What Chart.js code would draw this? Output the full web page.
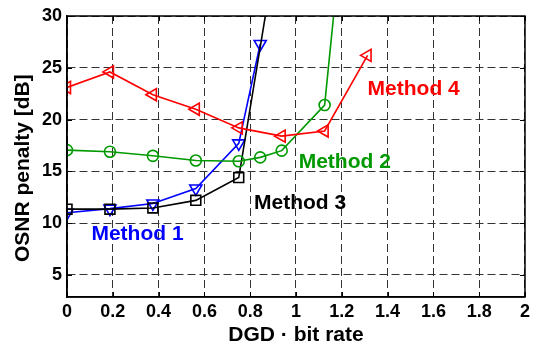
<!DOCTYPE html>
<html>
<head>
<meta charset="utf-8">
<script src="https://cdn.jsdelivr.net/npm/chart.js@4"></script>
<style>
  body { margin: 0; background: #fff; }
  canvas { display: block; }
</style>
</head>
<body>
<canvas id="penaltyChart" width="534" height="349"></canvas>
<script>
const xTicks = [0, 0.2, 0.4, 0.6, 0.8, 1, 1.2, 1.4, 1.6, 1.8, 2];
const yTicks = [5, 10, 15, 20, 25, 30];

const method1X = [0, 0.1875, 0.375, 0.5625, 0.75, 0.84375];
const method1Y = [11.0, 11.4, 11.9, 13.35, 17.7, 27.3];
const method2X = [0, 0.1875, 0.375, 0.5625, 0.75, 0.84375, 0.9375, 1.125, 1.3125];
const method2Y = [17.05, 16.9, 16.5, 16.05, 15.97, 16.35, 17.0, 21.4, 62.6];
const method3X = [0, 0.1875, 0.375, 0.5625, 0.75, 0.9375];
const method3Y = [11.35, 11.35, 11.47, 12.2, 14.4, 39.6];
const method4X = [0, 0.1875, 0.375, 0.5625, 0.75, 0.9375, 1.125, 1.3125];
const method4Y = [23.1, 24.6, 22.4, 21.0, 19.2, 18.4, 18.9, 26.2];

const methodNames = ["Method 1", "Method 2", "Method 3", "Method 4"];
const methodColors = ["#0000ff", "#009900", "#000000", "#ff0000"];
// where each name is written, in data units
const labelX = [0.308, 1.213, 1.018, 1.514];
const labelY = [8.93, 15.9, 11.88, 22.95];

const FONT = "'Liberation Sans', Arial, sans-serif";

function toPoints(xs, ys) {
    return xs.map((x, i) => ({ x: x, y: ys[i] }));
}

function makeSet(i, xs, ys, style, rotation, radius) {
    return {
        label: methodNames[i],
        data: toPoints(xs, ys),
        borderColor: methodColors[i],
        backgroundColor: "rgba(0,0,0,0)",
        borderWidth: 1.6,
        pointStyle: style,
        rotation: rotation,
        pointRadius: radius,
        pointBorderWidth: 1.6,
        pointBackgroundColor: "rgba(0,0,0,0)",
        pointBorderColor: methodColors[i],
        tension: 0,
        clip: 0
    };
}

const boxAndLabels = {
    id: "boxAndLabels",
    afterDatasetsDraw(chart) {
        const ctx = chart.ctx;
        const a = chart.chartArea;
        const xs = chart.scales.x;
        const ys = chart.scales.y;
        ctx.save();
        // small inward ticks on all four sides
        ctx.strokeStyle = "#000";
        ctx.lineWidth = 1;
        ctx.beginPath();
        xTicks.forEach(v => {
            const p = Math.round(xs.getPixelForValue(v)) + 0.5;
            ctx.moveTo(p, a.bottom); ctx.lineTo(p, a.bottom - 5);
            ctx.moveTo(p, a.top); ctx.lineTo(p, a.top + 5);
        });
        yTicks.forEach(v => {
            const p = Math.round(ys.getPixelForValue(v)) + 0.5;
            ctx.moveTo(a.left, p); ctx.lineTo(a.left + 5, p);
            ctx.moveTo(a.right, p); ctx.lineTo(a.right - 5, p);
        });
        ctx.stroke();
        ctx.lineWidth = 1.5;
        ctx.strokeRect(a.left, a.top, a.right - a.left, a.bottom - a.top);

        ctx.font = "bold 21px " + FONT;
        ctx.textAlign = "center";
        ctx.textBaseline = "middle";
        methodNames.forEach((name, i) => {
            ctx.fillStyle = methodColors[i];
            ctx.fillText(name, xs.getPixelForValue(labelX[i]), ys.getPixelForValue(labelY[i]));
        });
        ctx.restore();
    }
};

const ctx = document.getElementById("penaltyChart").getContext("2d");
new Chart(ctx, {
    type: "line",
    data: {
        datasets: [
            makeSet(3, method4X, method4Y, "triangle", -90, 7),
            makeSet(1, method2X, method2Y, "circle", 0, 5.5),
            makeSet(2, method3X, method3Y, "rect", 0, 7),
            makeSet(0, method1X, method1Y, "triangle", 180, 7)
        ]
    },
    options: {
        responsive: false,
        devicePixelRatio: 1,
        animation: false,
        layout: { padding: { top: 16, right: 6, left: 0, bottom: 0 } },
        plugins: { legend: { display: false }, tooltip: { enabled: false } },
        scales: {
            x: {
                type: "linear",
                min: 0,
                max: 2,
                afterBuildTicks: s => { s.ticks = xTicks.map(v => ({ value: v })); },
                afterFit: s => { s.height = 52; },
                ticks: {
                    color: "#000",
                    padding: 4,
                    maxRotation: 0,
                    font: { family: FONT, size: 18, weight: "bold" },
                    callback: v => String(Number(v.toFixed(1)))
                },
                grid: { color: "#333", lineWidth: 1, drawTicks: false },
                border: { display: true, color: "#000", width: 1.5, dash: [8, 4] },
                title: {
                    display: true,
                    text: "DGD · bit rate",
                    color: "#000",
                    padding: { top: 0, bottom: 1 },
                    font: { family: FONT, size: 21, weight: "bold" }
                }
            },
            y: {
                min: 2.87,
                max: 30,
                afterBuildTicks: s => { s.ticks = yTicks.map(v => ({ value: v })); },
                afterFit: s => { s.width = 67; },
                ticks: {
                    color: "#000",
                    padding: 5,
                    font: { family: FONT, size: 18, weight: "bold" }
                },
                grid: { color: "#333", lineWidth: 1, drawTicks: false },
                border: { display: true, color: "#000", width: 1.5, dash: [8, 4] },
                title: {
                    display: true,
                    text: "OSNR penalty [dB]    ",
                    color: "#000",
                    padding: { top: 11, bottom: 0 },
                    font: { family: FONT, size: 21, weight: "bold" }
                }
            }
        }
    },
    plugins: [boxAndLabels]
});
</script>
</body>
</html>
